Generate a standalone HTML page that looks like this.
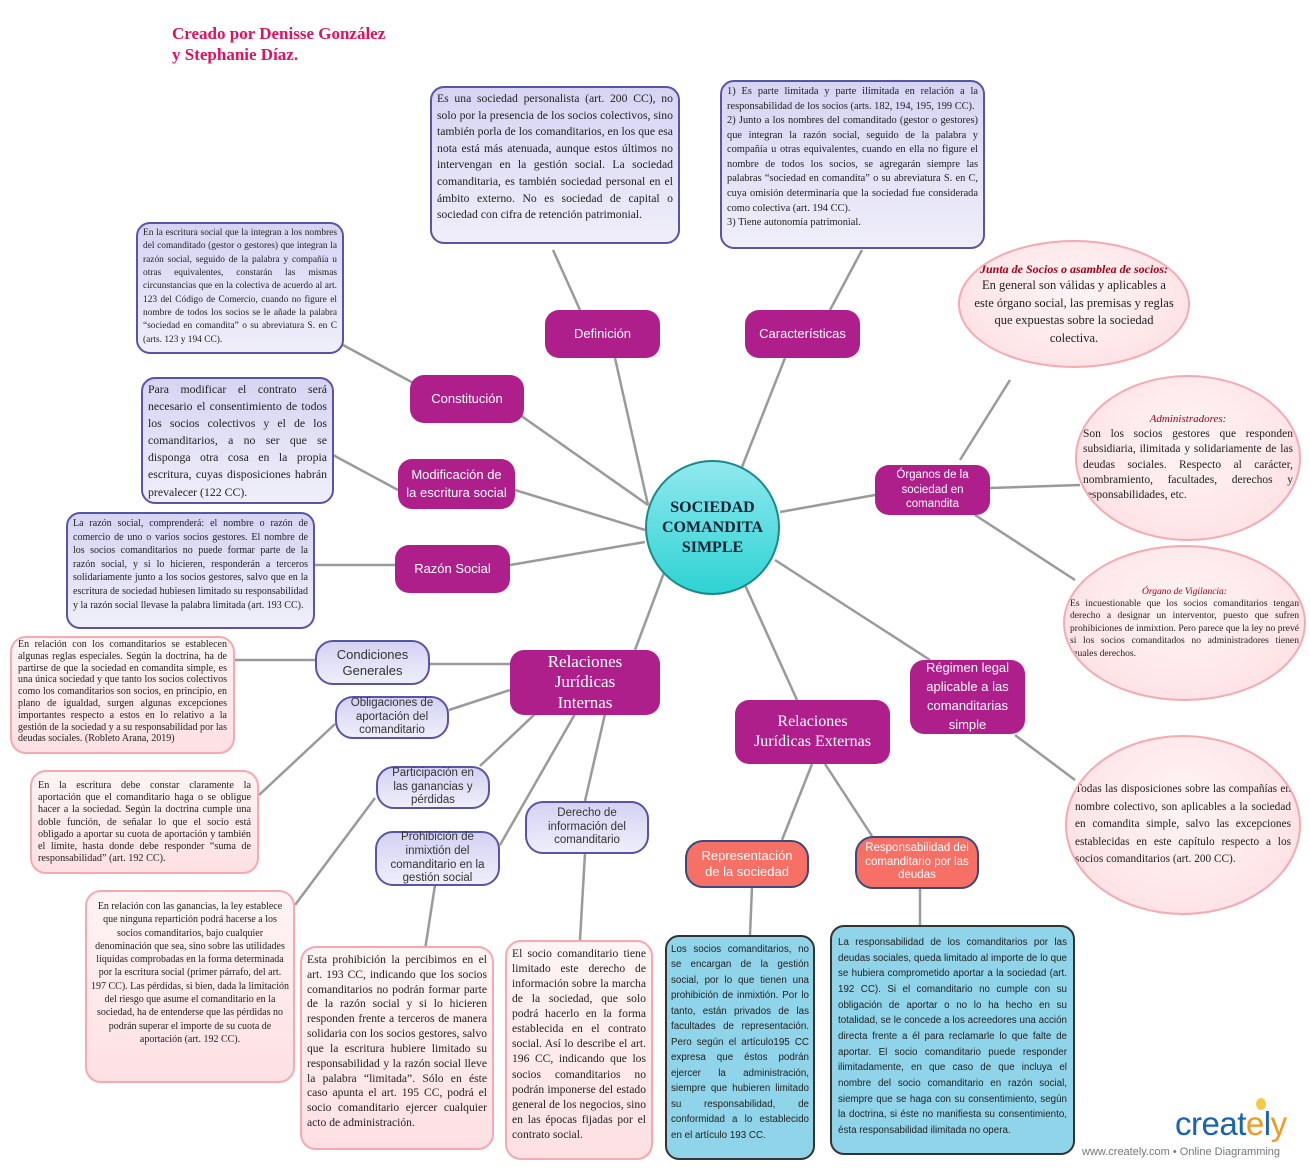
<!DOCTYPE html>
<html><head><meta charset="utf-8">
<style>
*{box-sizing:border-box;margin:0;padding:0}
body{width:1310px;height:1170px;background:#fff;position:relative;overflow:hidden;font-family:"Liberation Serif",serif;}
.a{position:absolute}
.lav{position:absolute;background:linear-gradient(#d6d4f2,#efeef9);border:2px solid #5a54a6;border-radius:14px;color:#222;text-align:justify;line-height:1.32;padding:3px 5px;overflow:hidden}
.pink{position:absolute;background:linear-gradient(#fff4f5,#fde0e3);border:2px solid #f6a9b0;border-radius:16px;color:#222;text-align:justify;line-height:1.25;padding:4px 6px;overflow:hidden}
.blue{position:absolute;background:#90d4e9;border:2px solid #333;border-radius:14px;color:#222;text-align:justify;font-family:"Liberation Sans",sans-serif;line-height:1.45;padding:6px 6px;overflow:hidden}
.pur{position:absolute;background:#af1f8c;color:#fff;border-radius:14px;display:flex;align-items:center;justify-content:center;text-align:center;font-family:"Liberation Sans",sans-serif;font-size:13px;line-height:1.3}
.sub{position:absolute;background:linear-gradient(#d4d2f2,#efeefa);border:2px solid #5a54a6;border-radius:18px;display:flex;align-items:center;justify-content:center;text-align:center;font-family:"Liberation Sans",sans-serif;color:#333;line-height:1.2}
.cor{position:absolute;background:#f77066;border:2px solid #3b4a7c;border-radius:18px;display:flex;align-items:center;justify-content:center;text-align:center;font-family:"Liberation Sans",sans-serif;color:#fff;line-height:1.2}
.ell{position:absolute;border-radius:50%;background:radial-gradient(ellipse at 50% 40%,#fff4f5,#fddde1);border:2px solid #f6a9b0;display:flex;flex-direction:column;justify-content:center;color:#222;overflow:hidden}
.h{color:#a0001a;font-style:italic;text-align:center}
</style></head><body>
<svg class="a" style="left:0;top:0" width="1310" height="1170">
<g stroke="#9a9a9a" stroke-width="2.5" fill="none">
<line x1="648" y1="505" x2="615" y2="358"/>
<line x1="742" y1="467" x2="785" y2="358"/>
<line x1="580" y1="310" x2="553" y2="250"/>
<line x1="830" y1="310" x2="862" y2="250"/>
<line x1="648" y1="505" x2="520" y2="415"/>
<line x1="417" y1="385" x2="343" y2="345"/>
<line x1="645" y1="530" x2="515" y2="490"/>
<line x1="398" y1="490" x2="333" y2="455"/>
<line x1="645" y1="542" x2="510" y2="565"/>
<line x1="395" y1="565" x2="314" y2="565"/>
<line x1="780" y1="512" x2="875" y2="495"/>
<line x1="960" y1="460" x2="1010" y2="380"/>
<line x1="990" y1="488" x2="1080" y2="485"/>
<line x1="975" y1="515" x2="1075" y2="580"/>
<line x1="775" y1="560" x2="930" y2="660"/>
<line x1="1015" y1="735" x2="1075" y2="780"/>
<line x1="665" y1="570" x2="635" y2="650"/>
<line x1="745" y1="585" x2="797" y2="700"/>
<line x1="430" y1="664" x2="510" y2="664"/>
<line x1="235" y1="660" x2="315" y2="660"/>
<line x1="510" y1="690" x2="449" y2="710"/>
<line x1="335" y1="724" x2="259" y2="795"/>
<line x1="535" y1="714" x2="480" y2="766"/>
<line x1="375" y1="798" x2="295" y2="905"/>
<line x1="575" y1="714" x2="500" y2="845"/>
<line x1="435" y1="885" x2="425" y2="950"/>
<line x1="605" y1="714" x2="585" y2="801"/>
<line x1="585" y1="853" x2="580" y2="940"/>
<line x1="812" y1="764" x2="782" y2="840"/>
<line x1="825" y1="764" x2="872" y2="836"/>
<line x1="752" y1="887" x2="750" y2="935"/>
<line x1="920" y1="888" x2="920" y2="925"/>
</g>
</svg>

<div class="a" style="left:172px;top:23px;color:#e0115f;font-size:17px;font-weight:bold;line-height:21px">Creado por Denisse González<br>y Stephanie Díaz.</div>

<div class="lav" style="left:430px;top:86px;width:250px;height:158px;font-size:11.7px;line-height:1.42">Es una sociedad personalista (art. 200 CC), no solo por la presencia de los socios colectivos, sino también porla de los comanditarios, en los que esa nota está más atenuada, aunque estos últimos no intervengan en la gestión social. La sociedad comanditaria, es también sociedad personal en el ámbito externo. No es sociedad de capital o sociedad con cifra de retención patrimonial.</div>

<div class="lav" style="left:720px;top:80px;width:265px;height:169px;font-size:10.4px;line-height:1.4">1) Es parte limitada y parte ilimitada en relación a la responsabilidad de los socios (arts. 182, 194, 195, 199 CC).<br>2) Junto a los nombres del comanditado (gestor o gestores) que integran la razón social, seguido de la palabra y compañía u otras equivalentes, cuando en ella no figure el nombre de todos los socios, se agregarán siempre las palabras “sociedad en comandita” o su abreviatura S. en C, cuya omisión determinaría que la sociedad fue considerada como colectiva (art. 194 CC).<br>3) Tiene autonomía patrimonial.</div>

<div class="lav" style="left:136px;top:222px;width:208px;height:132px;font-size:9.4px;line-height:1.42">En la escritura social que la integran a los nombres del comanditado (gestor o gestores) que integran la razón social, seguido de la palabra y compañía u otras equivalentes, constarán las mismas circunstancias que en la colectiva de acuerdo al art. 123 del Código de Comercio, cuando no figure el nombre de todos los socios se le añade la palabra “sociedad en comandita” o su abreviatura S. en C (arts. 123 y 194 CC).</div>

<div class="lav" style="left:141px;top:377px;width:193px;height:127px;font-size:11.8px;line-height:1.45;padding:2px 5px">Para modificar el contrato será necesario el consentimiento de todos los socios colectivos y el de los comanditarios, a no ser que se disponga otra cosa en la propia escritura, cuyas disposiciones habrán prevalecer (122 CC).</div>

<div class="lav" style="left:66px;top:512px;width:249px;height:117px;font-size:10px;line-height:1.36">La razón social, comprenderá: el nombre o razón de comercio de uno o varios socios gestores. El nombre de los socios comanditarios no puede formar parte de la razón social, y si lo hicieren, responderán a terceros solidariamente junto a los socios gestores, salvo que en la escritura de sociedad hubiesen limitado su responsabilidad y la razón social llevase la palabra limitada (art. 193 CC).</div>

<div class="pur" style="left:545px;top:310px;width:115px;height:48px">Definición</div>
<div class="pur" style="left:745px;top:310px;width:115px;height:48px">Características</div>
<div class="pur" style="left:410px;top:375px;width:114px;height:48px">Constitución</div>
<div class="pur" style="left:398px;top:459px;width:117px;height:50px;padding:0 8px;line-height:1.4">Modificación de la escritura social</div>
<div class="pur" style="left:395px;top:545px;width:115px;height:48px">Razón Social</div>
<div class="pur" style="left:875px;top:465px;width:115px;height:50px;font-size:11.5px;padding:0 12px">Órganos de la sociedad en comandita</div>
<div class="pur" style="left:910px;top:660px;width:115px;height:74px;font-size:13px;line-height:1.45">Régimen legal aplicable a las comanditarias simple</div>
<div class="pur" style="left:510px;top:650px;width:150px;height:65px;font-family:'Liberation Serif',serif;font-size:17px;line-height:1.18;padding:0 30px">Relaciones Jurídicas Internas</div>
<div class="pur" style="left:735px;top:700px;width:155px;height:64px;font-family:'Liberation Serif',serif;font-size:16px;line-height:1.25;padding:0 4px">Relaciones<br>Jurídicas Externas</div>

<div class="a" style="left:645px;top:460px;width:135px;height:135px;border-radius:50%;background:linear-gradient(#90e8ef,#2ed3d3);border:2px solid #1a8a88;display:flex;align-items:center;justify-content:center;text-align:center;font-weight:bold;font-size:16px;line-height:1.25;color:#123">SOCIEDAD<br>COMANDITA<br>SIMPLE</div>

<div class="sub" style="left:315px;top:640px;width:115px;height:45px;font-size:13px">Condiciones Generales</div>
<div class="sub" style="left:335px;top:696px;width:114px;height:43px;font-size:11.5px;padding:0 6px">Obligaciones de aportación del comanditario</div>
<div class="sub" style="left:376px;top:766px;width:114px;height:43px;font-size:11.5px;padding:0 8px">Participación en las ganancias y pérdidas</div>
<div class="sub" style="left:375px;top:831px;width:125px;height:55px;font-size:11.5px">Prohibición de inmixtión del comanditario en la gestión social</div>
<div class="sub" style="left:525px;top:801px;width:124px;height:53px;font-size:11.5px;padding:0 6px">Derecho de información del comanditario</div>

<div class="cor" style="left:685px;top:840px;width:124px;height:48px;font-size:13px;padding:0 6px">Representación de la sociedad</div>
<div class="cor" style="left:855px;top:836px;width:124px;height:53px;font-size:11.5px">Responsabilidad del comanditario por las deudas</div>

<div class="ell" style="left:958px;top:240px;width:232px;height:128px;padding:0 14px;font-size:12.5px;line-height:1.4;text-align:center"><div class="h" style="font-weight:bold;font-size:12px">Junta de Socios o asamblea de socios:</div>En general son válidas y aplicables a este órgano social, las premisas y reglas que expuestas sobre la sociedad colectiva.</div>

<div class="ell" style="left:1075px;top:375px;width:226px;height:166px;padding:0 6px;font-size:11.5px;line-height:1.33;text-align:justify"><div class="h" style="font-size:11px">Administradores:</div>Son los socios gestores que responden subsidiaria, ilimitada y solidariamente de las deudas sociales. Respecto al carácter, nombramiento, facultades, derechos y responsabilidades, etc.</div>

<div class="ell" style="left:1063px;top:545px;width:243px;height:156px;padding:0 5px;font-size:9.6px;line-height:1.3;text-align:justify"><div class="h" style="font-size:9.5px">Órgano de Vigilancia:</div>Es incuestionable que los socios comanditarios tengan derecho a designar un interventor, puesto que sufren prohibiciones de inmixtion. Pero parece que la ley no prevé si los socios comanditados no administradores tienen iguales derechos.</div>

<div class="ell" style="left:1065px;top:735px;width:236px;height:180px;padding:0 8px;font-size:11.3px;line-height:1.55;text-align:justify">Todas las disposiciones sobre las compañías en nombre colectivo, son aplicables a la sociedad en comandita simple, salvo las excepciones establecidas en este capítulo respecto a los socios comanditarios (art. 200 CC).</div>

<div class="pink" style="left:10px;top:636px;width:225px;height:118px;font-size:10px;line-height:1.18;padding:1px 6px">En relación con los comanditarios se establecen algunas reglas especiales. Según la doctrina, ha de partirse de que la sociedad en comandita simple, es una única sociedad y que tanto los socios colectivos como los comanditarios son socios, en principio, en plano de igualdad, surgen algunas excepciones importantes respecto a estos en lo relativo a la gestión de la sociedad y a su responsabilidad por las deudas sociales. (Robleto Arana, 2019)</div>

<div class="pink" style="left:30px;top:770px;width:229px;height:104px;font-size:10.2px;line-height:1.2;padding:8px 6px">En la escritura debe constar claramente la aportación que el comanditario haga o se obligue hacer a la sociedad. Según la doctrina cumple una doble función, de señalar lo que el socio está obligado a aportar su cuota de aportación y también el límite, hasta donde debe responder “suma de responsabilidad” (art. 192 CC).</div>

<div class="pink" style="left:85px;top:890px;width:210px;height:193px;font-size:10px;line-height:1.33;text-align:center;padding:8px 4px">En relación con las ganancias, la ley establece que ninguna repartición podrá hacerse a los socios comanditarios, bajo cualquier denominación que sea, sino sobre las utilidades liquidas comprobadas en la forma determinada por la escritura social (primer párrafo, del art. 197 CC). Las pérdidas, si bien, dada la limitación del riesgo que asume el comanditario en la sociedad, ha de entenderse que las pérdidas no podrán superar el importe de su cuota de aportación (art. 192 CC).</div>

<div class="pink" style="left:300px;top:946px;width:194px;height:204px;font-size:11.6px;line-height:1.28;padding:5px 5px">Esta prohibición la percibimos en el art. 193 CC, indicando que los socios comanditarios no podrán formar parte de la razón social y si lo hicieren responden frente a terceros de manera solidaria con los socios gestores, salvo que la escritura hubiere limitado su responsabilidad y la razón social lleve la palabra “limitada”. Sólo en éste caso apunta el art. 195 CC, podrá el socio comanditario ejercer cualquier acto de administración.</div>

<div class="pink" style="left:505px;top:940px;width:148px;height:220px;font-size:11.6px;line-height:1.3;padding:4px 5px">El socio comanditario tiene limitado este derecho de información sobre la marcha de la sociedad, que solo podrá hacerlo en la forma establecida en el contrato social. Así lo describe el art. 196 CC, indicando que los socios comanditarios no podrán imponerse del estado general de los negocios, sino en las épocas fijadas por el contrato social.</div>

<div class="blue" style="left:665px;top:935px;width:150px;height:225px;font-size:9.8px;line-height:1.58;padding:5px 4px">Los socios comanditarios, no se encargan de la gestión social, por lo que tienen una prohibición de inmixtión. Por lo tanto, están privados de las facultades de representación. Pero según el artículo195 CC expresa que éstos podrán ejercer la administración, siempre que hubieren limitado su responsabilidad, de conformidad a lo establecido en el artículo 193 CC.</div>

<div class="blue" style="left:830px;top:925px;width:245px;height:230px;font-size:9.8px;line-height:1.6;padding:8px 6px">La responsabilidad de los comanditarios por las deudas sociales, queda limitado al importe de lo que se hubiera comprometido aportar a la sociedad (art. 192 CC). Si el comanditario no cumple con su obligación de aportar o no lo ha hecho en su totalidad, se le concede a los acreedores una acción directa frente a él para reclamarle lo que falte de aportar. El socio comanditario puede responder ilimitadamente, en que caso de que incluya el nombre del socio comanditario en razón social, siempre que se haga con su consentimiento, según la doctrina, si éste no manifiesta su consentimiento, ésta responsabilidad ilimitada no opera.</div>

<div class="a" style="left:1175px;top:1104px;font-family:'Liberation Sans',sans-serif;font-size:33px;color:#1a63b0;letter-spacing:-0.5px;line-height:40px">creat<span style="color:#f29a1f">e</span>l<span style="color:#f29a1f">y</span></div>
<div class="a" style="left:1256px;top:1098px;width:10px;height:12px;border-radius:50%;background:#f5c84a"></div>
<div class="a" style="left:1082px;top:1146px;font-family:'Liberation Sans',sans-serif;font-size:11px;color:#777">www.creately.com • Online Diagramming</div>
</body></html>
